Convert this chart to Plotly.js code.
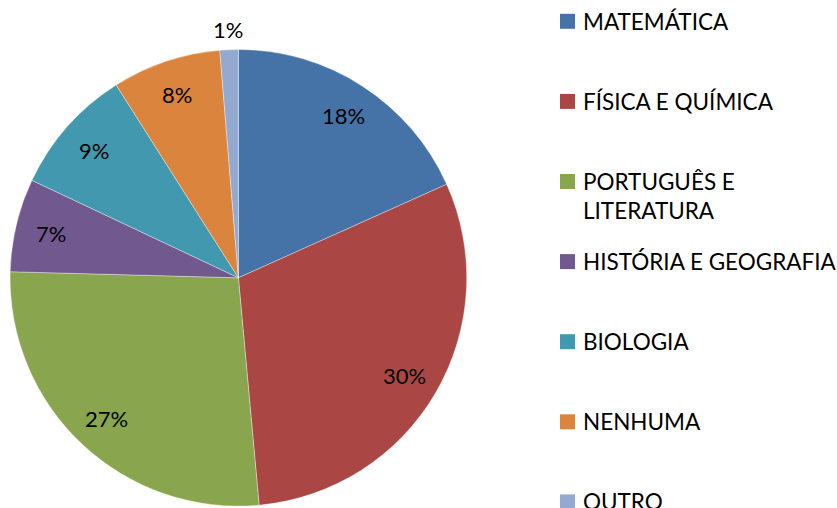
<!DOCTYPE html>
<html>
<head>
<meta charset="utf-8">
<script src="https://cdn.plot.ly/plotly-3.0.1.min.js"></script>
<style>html,body{margin:0;padding:0;background:#fff;}#chart{width:837px;height:508px;}</style>
</head>
<body>
<div id="chart"></div>
<script>
// Data
const categories = ["MATEMÁTICA", "FÍSICA E QUÍMICA", "PORTUGUÊS E LITERATURA", "HISTÓRIA E GEOGRAFIA", "BIOLOGIA", "NENHUMA", "OUTRO"];
const legendLabels = ["MATEMÁTICA", "FÍSICA E QUÍMICA", "PORTUGUÊS E<br>LITERATURA", "HISTÓRIA E GEOGRAFIA", "BIOLOGIA", "NENHUMA", "OUTRO"];
const values = [18.3, 30.3, 26.9, 6.6, 9.0, 7.7, 1.3];
const colors = ["#4572A7", "#AA4643", "#89A54E", "#71588F", "#4198AF", "#DB843D", "#93A9CF"];

// Layout geometry (pixels)
const W = 837, H = 508;
const cx = 238.4, cy = 277.8, R = 228.3;
const FONT = "Lato, 'Open Sans', sans-serif";
const fs = 22;
const legFs = 22.5;

const px2x = p => p / W;
const px2y = p => 1 - p / H;

const total = values.reduce((a, b) => a + b, 0);
const annotations = [];
const shapes = [];

// Percent labels placed at slice mid-angles
let cum = 0;
values.forEach((v, i) => {
  const mid = (cum + v / 2) / total * 2 * Math.PI;
  cum += v;
  const r = (v / total < 0.03) ? 1.09 * R : 0.845 * R;
  const x = cx + r * Math.sin(mid);
  const y = cy - r * Math.cos(mid);
  annotations.push({
    x: px2x(x), y: px2y(y), xref: "paper", yref: "paper",
    text: Math.round(v / total * 100) + "%", showarrow: false,
    xanchor: "center", yanchor: "middle", borderpad: 0,
    font: {family: FONT, size: fs, color: "#000"}
  });
});

// Legend (squares + text)
const legTop = 21.3, legStep = 80.1, sq = 15, sqX = 560, txtX = 582;
legendLabels.forEach((lab, i) => {
  const yc = legTop + i * legStep;
  const nLines = lab.split("<br>").length;
  shapes.push({
    type: "rect", xref: "paper", yref: "paper",
    x0: px2x(sqX), x1: px2x(sqX + sq), y0: px2y(yc + sq / 2), y1: px2y(yc - sq / 2),
    fillcolor: colors[i], line: {width: 0}
  });
  annotations.push({
    x: px2x(txtX), y: px2y(yc + (nLines - 1) * 1.3 * legFs / 2), xref: "paper", yref: "paper",
    text: lab, showarrow: false, align: "left",
    xanchor: "left", yanchor: "middle", borderpad: 0,
    font: {family: FONT, size: legFs, color: "#000"}
  });
});

const trace = {
  type: "pie",
  labels: categories,
  values: values,
  sort: false,
  direction: "clockwise",
  rotation: 0,
  textinfo: "none",
  hoverinfo: "label+percent",
  marker: {colors: colors, line: {color: "rgba(255,255,255,0.6)", width: 0.6}},
  domain: {x: [px2x(cx - R), px2x(cx + R)], y: [px2y(cy + R), px2y(cy - R)]},
  showlegend: false
};

const layout = {
  width: W, height: H,
  margin: {l: 0, r: 0, t: 0, b: 0},
  paper_bgcolor: "#fff", plot_bgcolor: "#fff",
  showlegend: false,
  annotations: annotations,
  shapes: shapes,
  font: {family: FONT}
};

Plotly.newPlot("chart", [trace], layout, {displayModeBar: false, staticPlot: true});
</script>
</body>
</html>
